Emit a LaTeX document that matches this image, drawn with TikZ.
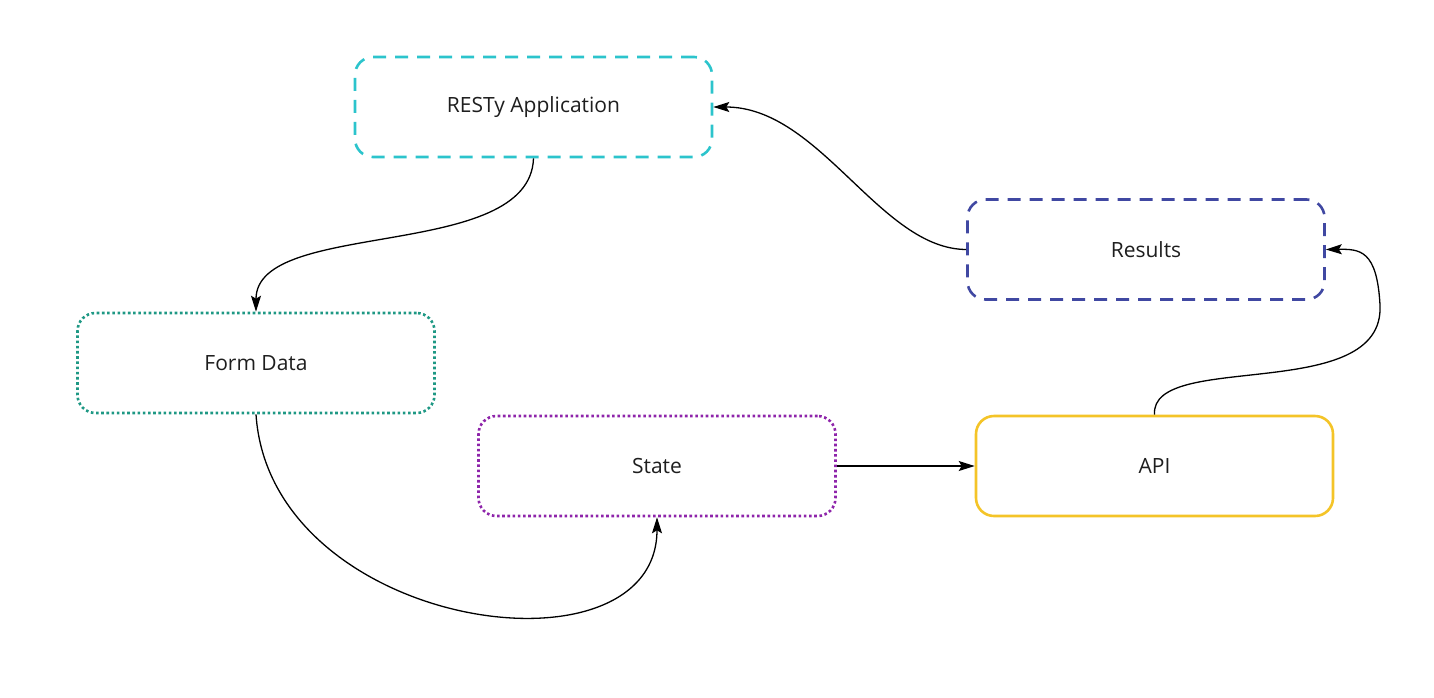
\documentclass[tikz,border=0pt]{standalone}
\usepackage{fontspec}
\setmainfont{Open Sans}
\usetikzlibrary{arrows.meta, positioning}
\definecolor{restcyan}  {RGB}{44, 196, 204}
\definecolor{formteal}  {RGB}{30, 152, 132}
\definecolor{statepurp} {RGB}{142, 36, 170}
\definecolor{resnavy}   {RGB}{64,  72, 162}
\definecolor{apiyellow} {RGB}{244, 196, 40}
\definecolor{txtgray}   {RGB}{30,  30,  30}

\begin{document}
\begin{tikzpicture}[x=1pt,y=-1pt,
		box/.style={rounded corners=18pt, line width=2.6pt, minimum width=357pt,
			minimum height=100pt, text=txtgray, font=\fontsize{21}{25}\selectfont},
		dashbox/.style={box, dash pattern=on 13pt off 9pt},
		dotbox/.style={box, dash pattern=on 2.6pt off 2.6pt},
		link/.style={line width=1.3pt, -{Stealth[length=16pt,width=10pt,inset=3pt]}}]
				\useasboundingbox (0,0) rectangle (1434,697);
				\node[dashbox,draw=restcyan] (resty) at (533.5,107) {RESTy Application};
				\node[dotbox,draw=formteal] (form) at (256,363) {Form Data};
				\node[dotbox,draw=statepurp] (state) at (657,466) {State};
				\node[dashbox,draw=resnavy] (results) at (1146,249.5) {Results};
				\node[box,draw=apiyellow] (api) at (1154.5,466) {API};
				\draw[link] (resty.south) .. controls (530,262) and (256,218) .. (form.north);
				\draw[link] (form.south) .. controls (270,630) and (657,685) .. (state.south);
				\draw[link] (state.east) -- (api.west);
				\draw[link] (api.north) .. controls (1150,350) and (1385,405) .. (1380,305)
					.. controls (1377,250) and (1360,249) .. (results.east);
				\draw[link] (results.west) .. controls (880,249) and (820,107) .. (resty.east);
			\end{tikzpicture}
\end{document}
